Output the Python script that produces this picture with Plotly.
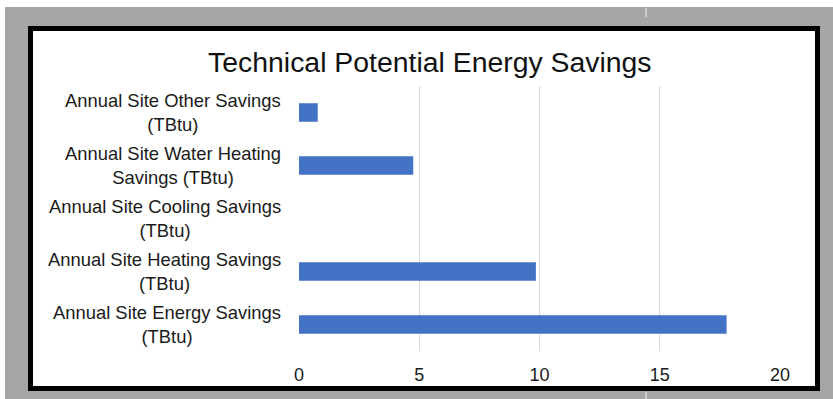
import plotly.graph_objects as go

categories = [
    "Annual Site Other Savings<br>(TBtu)",
    "Annual Site Water Heating<br>Savings (TBtu)",
    "Annual Site Cooling Savings<br>(TBtu)",
    "Annual Site Heating Savings<br>(TBtu)",
    "Annual Site Energy Savings<br>(TBtu)",
]
values = [0.78, 4.75, 0.0, 9.85, 17.78]
x_ticks = [0, 5, 10, 15, 20]

W, H = 833, 399
L, R, T, B = 299, 53, 86, 48
pw, ph = W - L - R, H - T - B

def px(x):
    return (x - L) / pw

def py(y):
    return (H - B - y) / ph

FONT = "Liberation Sans, Arial, sans-serif"

fig = go.Figure()
fig.add_trace(go.Bar(
    x=values, y=categories, orientation="h",
    marker=dict(color="#4472C4", line=dict(width=0)),
    hoverinfo="x+y",
))

shapes = [
    dict(type="rect", xref="paper", yref="paper", x0=px(0), x1=px(W), y0=py(0), y1=py(7),
         fillcolor="white", line=dict(width=0), layer="below"),
    dict(type="rect", xref="paper", yref="paper", x0=px(0), x1=px(5), y0=py(0), y1=py(H),
         fillcolor="white", line=dict(width=0), layer="below"),
    dict(type="rect", xref="paper", yref="paper", x0=px(30.5), x1=px(817.5), y0=py(28.5), y1=py(388.5),
         fillcolor="white", line=dict(color="black", width=5), layer="below"),
    dict(type="line", xref="paper", yref="paper", x0=px(646), x1=px(646), y0=py(8), y1=py(25),
         line=dict(color="#f2f2f2", width=1, dash="dash"), layer="below"),
    dict(type="line", xref="paper", yref="paper", x0=px(646), x1=px(646), y0=py(392), y1=py(399),
         line=dict(color="#f2f2f2", width=1, dash="dash"), layer="below"),
]

annotations = [
    dict(x=0, xref="paper", y=c, yref="y", text=c, showarrow=False,
         xanchor="right", yanchor="middle", align="center", xshift=-16,
         font=dict(family=FONT, size=18.4, color="#1a1a1a"))
    for c in categories
]

fig.update_layout(
    width=W, height=H,
    margin=dict(l=L, r=R, t=T, b=B, pad=0),
    paper_bgcolor="#a6a6a6",
    plot_bgcolor="rgba(0,0,0,0)",
    showlegend=False,
    bargap=0.65,
    title=dict(text="Technical Potential Energy Savings", x=0.516, xref="container",
               xanchor="center", y=1 - 62 / H, yref="container", yanchor="middle",
               font=dict(family=FONT, size=28.4, color="#111111")),
    xaxis=dict(range=[0, 20], tickvals=x_ticks, showgrid=True, gridcolor="#d9d9d9", gridwidth=1,
               zeroline=False, showline=False, ticks="outside", ticklen=7, tickcolor="rgba(0,0,0,0)",
               tickfont=dict(family=FONT, size=18, color="#1a1a1a"), fixedrange=True),
    yaxis=dict(autorange="reversed", showticklabels=False, showgrid=False, zeroline=False,
               showline=False, ticks="", fixedrange=True),
    shapes=shapes,
    annotations=annotations,
)

fig.write_html("out.html")
